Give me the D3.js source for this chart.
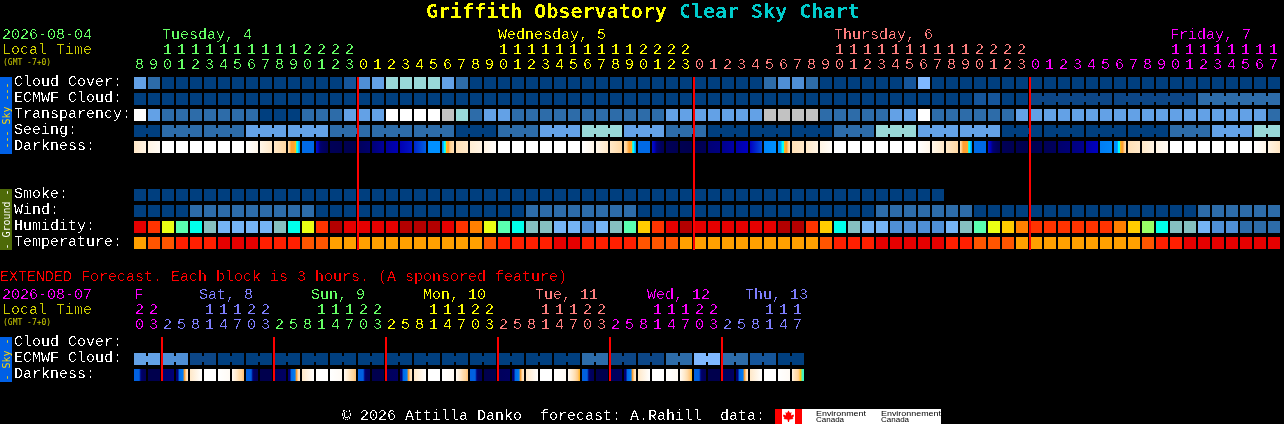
<!DOCTYPE html>
<html><head><meta charset="utf-8">
<script src="https://cdn.jsdelivr.net/npm/d3@7/dist/d3.min.js"></script>
<style id="st">
html,body{margin:0;padding:0;background:#000;overflow:hidden}
svg{display:block}
text{font-family:"Liberation Mono",monospace;font-size:15px;white-space:pre;fill:#fff}
.title{font-family:"DejaVu Sans Mono",monospace;font-weight:bold;font-size:20px}
.tiny{font-family:"DejaVu Sans Mono",monospace;font-size:8px}
.side{font-family:"DejaVu Sans Mono",monospace;font-size:10px}
.logo{font-family:"Liberation Sans",sans-serif;font-size:8px;fill:#000}
</style></head><body>
<svg id="chart" width="1284" height="424" xmlns="http://www.w3.org/2000/svg"></svg>
<script>
const hoursMain=[8,9,10,11,12,13,14,15,16,17,18,19,20,21,22,23,
0,1,2,3,4,5,6,7,8,9,10,11,12,13,14,15,16,17,18,19,20,21,22,23,
0,1,2,3,4,5,6,7,8,9,10,11,12,13,14,15,16,17,18,19,20,21,22,23,
0,1,2,3,4,5,6,7,8,9,10,11,12,13,14,15,16,17];
const hoursExt=[20,23,2,5,8,11,14,17,20,23,2,5,8,11,14,17,20,23,2,5,8,11,14,17,20,23,2,5,8,11,14,17,20,23,2,5,8,11,14,17,20,23,2,5,8,11,14,17];
const dayColorsMain=["#66ff66","#ffff00","#ff7f7f","#ff00ff"];
const dayColorsExt=["#ff00ff","#7f7fff","#66ff66","#ffff00","#ff7f7f","#ff00ff","#7f7fff"];
const dayLabelsMain=[[2,"Tuesday, 4"],[26,"Wednesday, 5"],[50,"Thursday, 6"],[74,"Friday, 7"]];
const dayLabelsExt=[["F",134,0],["Sat, 8",199,1],["Sun, 9",311,2],["Mon, 10",423,3],["Tue, 11",535,4],["Wed, 12",647,5],["Thu, 13",745,6]];
const skyRows=["Cloud Cover:","ECMWF Cloud:","Transparency:","Seeing:","Darkness:"];
const groundRows=["Smoke:","Wind:","Humidity:","Temperature:"];
const extRows=["Cloud Cover:","ECMWF Cloud:","Darkness:"];
const cloudCover=[5,3,0,0,0,0,0,0,0,0,0,0,0,0,0,2,4,5,7,7,7,7,5,3,
0,0,0,0,0,0,0,0,0,0,0,0,0,0,0,0,0,0,0,0,0,3,4,4,3,0,0,0,0,0,0,2,6,
0,0,0,0,0,0,0,0,0,0,0,0,0,0,0,0,0,0,0,0,0,0,0,0,0];
const ecmwfCloud=[0,0,0,0,0,0,0,0,0,0,0,0,0,0,0,0,0,0,0,0,0,0,0,0,0,0,0,0,0,0,
0,0,0,0,0,0,0,0,0,0,0,0,0,0,0,0,0,0,0,0,0,0,0,0,0,0,0,0,0,0,2,2,0,0,
1,1,1,1,1,1,1,1,1,1,1,1,3,3,3,3,3,3];
const ecmwfSpans=[[64,69],[70,75],[76,81]];
const transparency=[9,5,3,3,3,3,3,3,3,0,0,0,3,3,3,5,5,5,9,9,9,9,8,7,3,5,5,
3,3,3,3,3,3,3,3,3,3,3,5,5,5,5,5,5,5,8,8,8,8,3,3,3,3,3,5,5,9,3,3,3,3,3,3,
5,5,5,5,5,5,5,5,5,5,5,5,5,5,5,5,5,5,3];
const seeing=[0,0,3,3,3,3,3,3,5,5,5,5,5,5,3,3,3,3,3,3,3,3,3,0,0,0,3,3,3,5,5,5,7,7,7,5,5,5,3,3,3,
0,0,0,0,0,0,0,0,0,3,3,3,7,7,7,5,5,5,5,5,5,0,0,0,0,0,0,0,0,0,0,0,0,3,3,3,5,5,5,7,7];
const seeingSpans=[[0,1],[2,4],[5,7],[8,10],[11,13],[14,16],[17,19],[20,22],[23,25],[26,28],[29,31],[32,34],[35,37],[38,40],[41,43],[44,46],[47,49],[50,52],[53,55],[56,58],[59,61],[62,64],[65,67],[68,70],[71,73],[74,76],[77,79],[80,81]];
const darkness=[[9,9.5],[9.5,9.8],[10,10],[10,10],[10,10],[10,10],[10,10],[10,10],[10,9.6],[9.6,9],[9,8.2],[8.4,8.2,7.4,7,7,7,6.8,6.2,5,5,4.2,4],
[3.2,3.2],[2.2,2,0.8,0.5,0.4,0.3,0.2],[0.2,0.1],[0.1,0],[0.3,0.6],[0.8,1.4],[1.4,1.8],[1.8,2.2],[2.4,3],[4,4],[4,4,5,5,6.2,7,7,7.6,8,8.2,8.4,8.6],
[8.6,9],[9.2,9.5],[9.5,9.9],[10,10],[10,10],[10,10],[10,10],[10,10],[10,10],[10,9.6],[9.6,9],[9,8.2],[8.4,8.2,8,7.6,7.2,7,7,6.6,5,5,4.2,4],
[3.2,3.2],[2.2,2,0.8,0.5,0.3,0.2],[0.2,0.1],[0.1,0],[0.1,0.2],[0.8,1],[1.2,1.6],[1.6,2],[2,2.8],[3.8,4],[4,4,4,4.4,5,5,6.4,7,7,7.6,8.2,8.6],
[8.6,9],[9,9.5],[9.5,9.9],[10,10],[10,10],[10,10],[10,10],[10,10],[10,10],[10,9.6],[9.6,9],[9,8.2],[8.4,8,7.4,7,7,7,7,6.6,5,5,4.2,4],
[3.2,3.2],[2.2,2,0.8,0.5,0.3,0.2],[0.2,0.1],[0.1,0],[0,0.2],[0.2,0.3],[0.6,0.8],[1,1.2],[1.6,2],[3.6,3.8],[4,4,4,4,5,5,6.4,7,7,7.6,8.2,8.6],
[8.6,9],[9,9.5],[9.5,9.8],[10,10],[10,10],[10,10],[10,10],[10,10],[10,10],[10,9.6],[9.5,8.9]];
const smoke=[0,0,0,0,0,0,0,0,0,0,0,0,0,0,0,0,0,0,0,0,0,0,0,0,0,0,0,0,0,0,0,0,0,0,0,0,0,0,0,0,0,0,0,0,0,0,0,0,0,0,0,0,0,0,0,0,0,0];
const wind=[0,0,0,0,3,3,3,3,3,3,3,3,3,0,0,0,0,0,0,0,0,0,0,0,0,0,0,0,3,3,3,3,3,3,3,3,
0,0,0,0,0,0,0,0,0,0,0,0,0,0,0,0,0,3,3,3,3,3,3,3,0,0,0,0,0,0,0,0,0,0,0,0,0,0,0,0,3,3,3,3,3,3];
const humidity=[1,2,5,7,8,9,10,10,10,10,9,8,5,2,0,1,1,1,1,0,0,0,1,2,3,5,7,8,9,9,10,10,11,10,9,7,4,2,1,0,
1,1,1,1,1,1,0,0,2,4,8,9,10,10,11,11,11,11,10,9,7,5,4,3,2,2,2,2,2,2,3,4,6,8,9,9,10,11,11,12,12,12];
const temperature=[3,2,2,1,1,1,0,0,0,1,1,1,2,2,3,3,3,3,3,3,3,3,3,3,3,2,1,1,1,1,0,0,1,1,1,1,2,2,2,3,
3,3,3,3,3,3,3,3,3,2,1,1,1,0,0,0,0,0,1,1,2,2,2,3,3,3,3,3,3,3,3,3,2,1,1,0,0,0,0,0,0,0];
const extEcmwf=[5,5,4,4,1,1,0,0,0,0,0,0,0,0,0,0,0,0,0,0,0,0,0,0,0,0,0,0,0,0,0,0,3,3,1,1,1,1,3,3,6,6,3,3,2,2,0,0];
const extSpans=[[0,1],[2,3],[4,5],[6,7],[8,9],[10,11],[12,13],[14,15],[16,17],[18,19],[20,21],[22,23],[24,25],[26,27],[28,29],[30,31],[32,33],[34,35],[36,37],[38,39],[40,41],[42,43],[44,45],[46,47]];
const extDarkness=[[3,3,3,3,0.8,0.4,0.3,0.3],[0,0],[0.6,0.8],[0.8,0.8,3.2,3.4,3.6,7,8.5,9],[9,10],[10,10],[10,9.8],[9.8,9.4,9,8.4,8,7.6],
[3,3,3,3,0.8,0.4,0.3,0.3],[0,0],[0.3,0.4],[0.8,0.8,3.2,3.4,3.6,7,8.5,9],[9,10],[10,10],[10,9.8],[9.8,9.4,9,8.4,8,7.6],
[3,3,3,3,0.8,0.4,0.3,0.3],[0,0],[0.3,0.4],[0.8,0.8,3.2,3.4,3.6,7,8.5,9],[9,10],[10,10],[10,9.8],[9.8,9.4,9,8.4,8,7.6],
[3,3,3,3,0.8,0.4,0.3,0.3],[0,0],[0.3,0.4],[0.8,0.8,3.2,3.4,3.6,7,8.5,9],[9,10],[10,10],[10,9.8],[9.8,9.4,9,8.4,7.8,6.6],
[3,3,3,3,0.8,0.4,0.3,0.3],[0,0],[0.3,0.4],[0.8,0.8,3.2,3.4,3.6,7,8.5,9],[9,10],[10,10],[10,9.8],[9.8,9.4,9,8.4,7.8,6.4],
[3,3,3,3,0.8,0.4,0.3,0.3],[0,0],[0.3,0.4],[0.8,0.8,3.2,3.4,3.6,7,8.5,9],[9,10],[10,10],[10,9.8],[9.5,9,8.5,8.2,7.8,6.3,5.3,5.2]];
const cloudKey=["#003f7f","#0c4686","#15559a","#2d6ca9","#4f8fd6","#63a1e6","#7fb8ff","#99d9d9","#c2c2c2","#ffffff"];
const humidKey=["#b30000","#e60000","#ff3300","#ff8000","#ffcc00","#eaff14","#99ff66","#5affb0","#00ffea","#85c0c0","#75b4f5","#4f8fd6","#2d6ca9"];
const tempKey=["#e60000","#ff1f00","#ff5500","#ffa000"];
const darkKey=["#00004d","#000080","#0000c0","#0060e0","#0090ff","#00ffff","#ffd000","#ffa030","#ffd49a","#ffe8c8","#ffffff"];
const cloudScale=d3.scaleOrdinal(d3.range(cloudKey.length),cloudKey);
const humidScale=d3.scaleOrdinal(d3.range(humidKey.length),humidKey);
const tempScale=d3.scaleOrdinal(d3.range(tempKey.length),tempKey);
const darkScale=d3.scaleLinear().domain(d3.range(darkKey.length)).range(darkKey);
const svg=d3.select("#chart");
const defs=svg.append("defs");
const crisp=defs.append("filter").attr("id","crisp").attr("filterUnits","userSpaceOnUse").attr("x",0).attr("y",0).attr("width",1284).attr("height",424)
  .attr("color-interpolation-filters","sRGB");
crisp.append("feComponentTransfer").append("feFuncA").attr("type","discrete").attr("tableValues","0 0 0 1 1");
svg.append("rect").attr("width",1284).attr("height",424).attr("fill","#000");
const textLayer=svg.append("g");
const plainLayer=svg.append("g");
const markLayer=svg.append("g");
const topLayer=svg.append("g");
const xMain=d3.scaleBand().domain(d3.range(82)).range([134,1280]).paddingInner(2/14).paddingOuter(0);
const xExt=d3.scaleBand().domain(d3.range(48)).range([134,804]).paddingInner(2/14).paddingOuter(0);
const band=(rows,a,b)=>d3.scaleBand().domain(rows).range([a,b]).paddingInner(.25).paddingOuter(0);
const ySky=band(skyRows,77,153), yGround=band(groundRows,189,249), yExt=band(extRows,337,381);
function label(t,x,y,fill,cls){
  return (cls==="tiny"?plainLayer:textLayer).append("text").attr("x",x).attr("y",y).style("fill",fill||"#fff").attr("class",cls||null).text(t);
}
function cells(vals,x,y,row,scale){
  markLayer.append("g").selectAll("rect").data(vals).join("rect")
    .attr("x",(d,i)=>x(i)).attr("y",y(row)).attr("width",x.bandwidth()).attr("height",y.bandwidth())
    .attr("fill",d=>scale(d));
}
function connectors(vals,spans,x,y,row,scale){
  const g=markLayer.append("g");
  spans.forEach(([a,b])=>{
    for(let i=a;i<b;i++){
      g.append("rect").attr("x",x(i)+x.bandwidth()).attr("y",y(row)+3)
       .attr("width",x.step()-x.bandwidth()).attr("height",y.bandwidth()-6).attr("fill",scale(vals[i]));
    }
  });
}
let gid=0;
function darkCells(vals,x,y,row){
  const g=markLayer.append("g");
  vals.forEach((s,i)=>{
    const id="dk"+(gid++);
    const lg=defs.append("linearGradient").attr("id",id);
    s.forEach((v,k)=>lg.append("stop").attr("offset",k/(s.length-1)).attr("stop-color",darkScale(v)));
    g.append("rect").attr("x",x(i)).attr("y",y(row)).attr("width",x.bandwidth()).attr("height",y.bandwidth()).attr("fill",`url(#${id})`);
  });
}
function hourAxis(hours,x,baseU,baseT,colors){
  const day=d3.cumsum(hours.map((h,i)=>i>0&&h<hours[i-1]?1:0));
  const draw=(vals,fmt,base)=>{
    const g=textLayer.append("g").attr("transform",`translate(0,${base})`)
      .call(d3.axisTop(x).tickValues(vals).tickFormat(fmt).tickSize(0).tickPadding(0).offset(0));
    g.select(".domain").remove();
    g.attr("font-family",null).attr("font-size",null);
    g.selectAll("text").attr("dx",-0.5).style("fill",i=>colors[day[i]]);
  };
  draw(d3.range(hours.length),i=>hours[i]%10,baseU);
  draw(d3.range(hours.length).filter(i=>hours[i]>=10),i=>Math.floor(hours[i]/10),baseT);
}
function sideBar(y0,y1,fill,txt,color){
  markLayer.append("rect").attr("x",0).attr("y",y0).attr("width",12).attr("height",y1-y0).attr("fill",fill);
  const my=(y0+y1)/2;
  topLayer.append("text").attr("class","side").attr("text-anchor","middle")
    .attr("transform",`translate(9.5,${my}) rotate(-90)`).style("fill",color).text(txt);
}
const title=textLayer.append("text").attr("class","title").attr("x",426).attr("y",18);
title.append("tspan").style("fill","#ffff00").text("Griffith Observatory ");
title.append("tspan").style("fill","#00cccc").text("Clear Sky Chart");
label("2026-08-04",2,39,"#66ff66");
label("Local Time",2,54,"#cccc00");
label("(GMT -7+0)",3,65,"#cccc00","tiny");
dayLabelsMain.forEach(([c,t],k)=>label(t,xMain(c),39,dayColorsMain[k]));
hourAxis(hoursMain,xMain,69,54,dayColorsMain);
skyRows.forEach(r=>label(r,14,ySky(r)+9));
groundRows.forEach(r=>label(r,14,yGround(r)+9));
sideBar(77,154,"#0060e6","--- Sky ---","#ffd800");
sideBar(189,250,"#4e6a08","- Ground -","#ffffff");
cells(cloudCover,xMain,ySky,"Cloud Cover:",cloudScale);
cells(ecmwfCloud,xMain,ySky,"ECMWF Cloud:",cloudScale);
connectors(ecmwfCloud,ecmwfSpans,xMain,ySky,"ECMWF Cloud:",cloudScale);
cells(transparency,xMain,ySky,"Transparency:",cloudScale);
cells(seeing,xMain,ySky,"Seeing:",cloudScale);
connectors(seeing,seeingSpans,xMain,ySky,"Seeing:",cloudScale);
darkCells(darkness,xMain,ySky,"Darkness:");
cells(smoke,xMain,yGround,"Smoke:",cloudScale);
cells(wind,xMain,yGround,"Wind:",cloudScale);
cells(humidity,xMain,yGround,"Humidity:",humidScale);
cells(temperature,xMain,yGround,"Temperature:",tempScale);
[16,40,64].forEach(c=>{
  topLayer.append("rect").attr("x",xMain(c)-1).attr("y",77).attr("width",2).attr("height",173).attr("fill","#ff0000");
});
label("EXTENDED Forecast. Each block is 3 hours. (A sponsored feature)",0,281,"#ff0000");
label("2026-08-07",2,299,"#ff00ff");
label("Local Time",2,314,"#cccc00");
label("(GMT -7+0)",3,325,"#cccc00","tiny");
dayLabelsExt.forEach(([t,px,k])=>label(t,px,299,dayColorsExt[k]));
hourAxis(hoursExt,xExt,329,314,dayColorsExt);
extRows.forEach(r=>label(r,14,yExt(r)+9));
sideBar(337,382,"#0060e6","- Sky -","#ffd800");
cells(extEcmwf,xExt,yExt,"ECMWF Cloud:",cloudScale);
connectors(extEcmwf,extSpans,xExt,yExt,"ECMWF Cloud:",cloudScale);
darkCells(extDarkness,xExt,yExt,"Darkness:");
[2,10,18,26,34,42].forEach(c=>{
  topLayer.append("rect").attr("x",xExt(c)-1).attr("y",337).attr("width",2).attr("height",44).attr("fill","#ff0000");
});
label("\u00a9 2026 Attilla Danko  forecast: A.Rahill  data:",342,420,"#fff");
const logo=topLayer.append("g");
logo.append("rect").attr("x",775).attr("y",409).attr("width",166).attr("height",15).attr("fill","#fff");
logo.append("rect").attr("x",775).attr("y",409).attr("width",7).attr("height",15).attr("fill","#f00");
logo.append("rect").attr("x",795).attr("y",409).attr("width",7).attr("height",15).attr("fill","#f00");
logo.append("path").attr("transform","translate(788.5,416.5)").attr("fill","#f00")
  .attr("d","M0,-6L1.5,-3.5L3,-4.5L2.5,-1L5,-2L5.5,-0.5L4,1.5L5,2.5L1,3L0.5,5.5L-0.5,5.5L-1,3L-5,2.5L-4,1.5L-5.5,-0.5L-5,-2L-2.5,-1L-3,-4.5L-1.5,-3.5Z");
[[816,"Environment",50],[881,"Environnement",60]].forEach(([x,t,w])=>{
  logo.append("text").attr("class","logo").attr("x",x).attr("y",415.5).attr("textLength",w).attr("lengthAdjust","spacingAndGlyphs").text(t);
  logo.append("text").attr("class","logo").attr("x",x).attr("y",422.2).text("Canada");
});
textLayer.attr("filter","url(#crisp)");
</script>
</body></html>
